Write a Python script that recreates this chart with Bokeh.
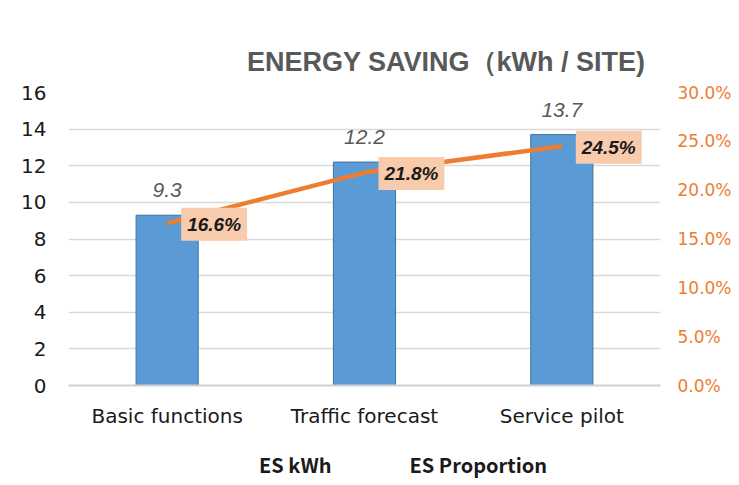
from bokeh.plotting import figure
from bokeh.layouts import column
from bokeh.models import (FactorRange, Range1d, LinearAxis, Legend, LegendItem, Label,
                          ColumnDataSource, FixedTicker, PrintfTickFormatter, Title, LabelSet)
from bokeh.core.properties import value
from bokeh.embed import file_html
from bokeh.resources import INLINE

categories = ["Basic functions", "Traffic forecast", "Service pilot"]
es_kwh = [9.3, 12.2, 13.7]
es_pct = [16.6, 21.8, 24.5]
kwh_labels = ["9.3", "12.2", "13.7"]
pct_labels = ["16.6%", "21.8%", "24.5%"]
left_ticks = [0, 2, 4, 6, 8, 10, 12, 14, 16]
right_ticks = [0, 5, 10, 15, 20, 25, 30]
series_names = ["ES kWh", "ES Proportion"]

BAR_FILL = "#5B9BD5"
BAR_LINE = "#41719C"
LINE_COLOR = "#ED7D31"

src = ColumnDataSource(dict(cat=categories, kwh=es_kwh, pct=es_pct, kl=kwh_labels, pl=pct_labels))

p = figure(frame_width=592, frame_height=293, x_range=FactorRange(*categories, range_padding=0),
           y_range=Range1d(0, 16), output_backend="svg", toolbar_location=None,
           min_border_left=68, min_border_right=76, min_border_top=92, min_border_bottom=48)
p.outline_line_color = None
p.background_fill_color = "white"
p.border_fill_color = "white"

p.extra_y_ranges = {"pct": Range1d(0, 30)}

title = Title(text="ENERGY SAVING（kWh / SITE)", align="right", offset=15, standoff=32,
              text_font="Liberation Sans", text_font_size="27px", text_font_style="bold",
              text_color="#595959")
p.add_layout(title, "above")

p.vbar(x="cat", top="kwh", width=0.315, source=src, fill_color=BAR_FILL,
       line_color=BAR_LINE, line_width=1)
p.line(x="cat", y="pct", source=src, y_range_name="pct", line_color=LINE_COLOR,
       line_width=4.5)

# left axis
ya = p.yaxis[0]
ya.ticker = FixedTicker(ticks=left_ticks)
ya.axis_line_color = None
ya.major_tick_line_color = None
ya.minor_tick_line_color = None
ya.major_label_text_font = "DejaVu Sans"
ya.major_label_text_font_size = "20px"
ya.major_label_text_color = "#1a1a1a"
ya.major_label_standoff = 16

ra = LinearAxis(y_range_name="pct", ticker=FixedTicker(ticks=right_ticks),
                formatter=PrintfTickFormatter(format="%.1f%%"))
ra.axis_line_color = None
ra.major_tick_line_color = None
ra.minor_tick_line_color = None
ra.major_label_text_font = "DejaVu Sans"
ra.major_label_text_font_size = "17px"
ra.major_label_text_color = LINE_COLOR
ra.major_label_standoff = 11
p.add_layout(ra, "right")

xa = p.xaxis[0]
xa.axis_line_color = "#d0d0d0"
xa.axis_line_width = 2
xa.major_tick_line_color = None
xa.minor_tick_line_color = None
xa.major_label_text_font = "DejaVu Sans"
xa.major_label_text_font_size = "20px"
xa.major_label_text_color = "#1a1a1a"
xa.major_label_standoff = 12

p.xgrid.grid_line_color = None
p.ygrid.ticker = FixedTicker(ticks=left_ticks)
p.ygrid.grid_line_color = "#d9d9d9"
p.ygrid.grid_line_width = 1.5

# bar value labels
p.add_layout(LabelSet(x="cat", y="kwh", text="kl", source=src, text_align="center",
                      text_baseline="bottom", y_offset=18, text_font=value("Liberation Sans"),
                      text_font_style="italic", text_font_size="21px", text_color="#595959"))

# percentage labels (factor i sits at synthetic coordinate i + 0.5)
for i, (v, t) in enumerate(zip(es_pct, pct_labels)):
    p.add_layout(Label(x=i + 0.5, y=v, y_range_name="pct", text=t, x_offset=14, y_offset=-1,
                       text_align="left", text_baseline="middle",
                       text_font="Liberation Sans", text_font_style="bold italic",
                       text_font_size="19px", text_color="#1a1a1a",
                       background_fill_color="#F8CBAD", padding=6))

# legend strip below the chart (separate small figure holding legend-only renderers)
lg = figure(frame_width=736, frame_height=50, x_range=Range1d(0, 1), y_range=Range1d(0, 1),
            output_backend="svg", toolbar_location=None, x_axis_location=None,
            y_axis_location=None, min_border=0)
lg.outline_line_color = None
lg.grid.grid_line_color = None
lg.background_fill_color = "white"
lg.border_fill_color = "white"
r_bar = lg.vbar(x=[], top=[], width=0.1, fill_color=BAR_FILL, line_color=BAR_LINE, line_width=1)
r_line = lg.line(x=[], y=[], line_color=LINE_COLOR, line_width=4.5)

legend = Legend(items=[LegendItem(label=series_names[0], renderers=[r_bar]),
                       LegendItem(label=series_names[1], renderers=[r_line])],
                orientation="horizontal", location=(206, 4),
                glyph_width=47, glyph_height=13, label_standoff=6, spacing=25,
                label_text_font="Noto Sans CJK SC", label_text_font_style="bold",
                label_text_font_size="20px", label_text_color="#1a1a1a",
                border_line_color=None, background_fill_alpha=0, padding=6, margin=0)
lg.add_layout(legend)

layout = column(p, lg, spacing=0)

open("out.html", "w").write(file_html(layout, INLINE))
